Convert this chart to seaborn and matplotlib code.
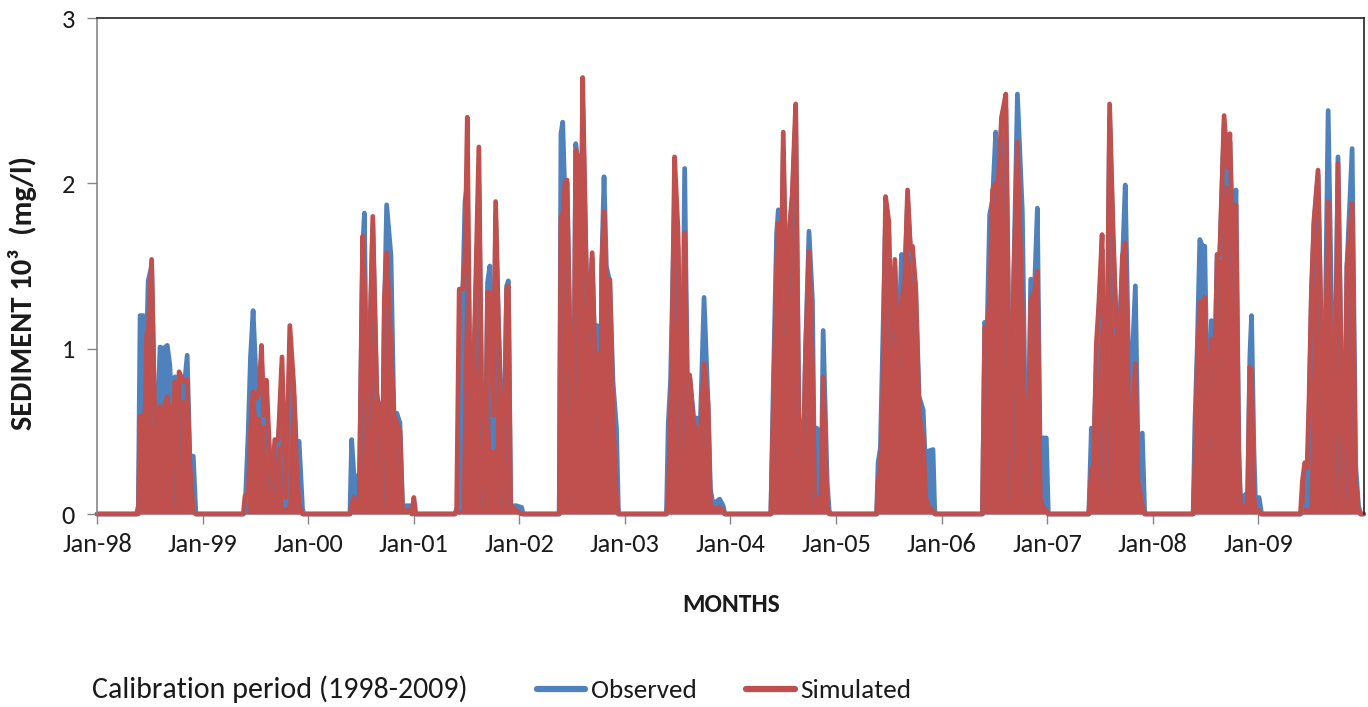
import matplotlib
matplotlib.use("Agg")
import matplotlib.pyplot as plt
import numpy as np
import pandas as pd
import seaborn as sns
from matplotlib import font_manager as fm
from matplotlib.lines import Line2D

# ---------------- data ----------------
dates = [
    "1998-01-01",
    # 1998 season
    "1998-05-18", "1998-05-24", "1998-05-30", "1998-06-10", "1998-06-16", "1998-06-22",
    "1998-06-27", "1998-07-09", "1998-07-20", "1998-08-01", "1998-08-07", "1998-08-18",
    "1998-09-01", "1998-09-10", "1998-09-20", "1998-09-28", "1998-10-05", "1998-10-12",
    "1998-10-26", "1998-11-09", "1998-11-18", "1998-11-30", "1998-12-09",
    # 1999 season
    "1999-05-22", "1999-05-28", "1999-06-08", "1999-06-16", "1999-06-25", "1999-07-07",
    "1999-07-16", "1999-07-24", "1999-08-01", "1999-08-10", "1999-08-28", "1999-09-08",
    "1999-09-20", "1999-10-03", "1999-10-16", "1999-10-30", "1999-11-13", "1999-11-22",
    "1999-12-01", "1999-12-13", "1999-12-17",
    # 2000 season
    "2000-05-25", "2000-05-31", "2000-06-08", "2000-06-17", "2000-06-26", "2000-07-08",
    "2000-07-14", "2000-07-24", "2000-08-12", "2000-08-26", "2000-09-06", "2000-09-13",
    "2000-09-21", "2000-09-29", "2000-10-14", "2000-10-24", "2000-11-03", "2000-11-14",
    "2000-11-23", "2000-12-19", "2000-12-26", "2001-01-01", "2001-01-08",
    # 2001 season
    "2001-05-23", "2001-05-29", "2001-06-07", "2001-06-19", "2001-06-27", "2001-07-05",
    "2001-07-14", "2001-07-23", "2001-08-14", "2001-08-23", "2001-09-04", "2001-09-13",
    "2001-09-21", "2001-10-03", "2001-10-11", "2001-10-20", "2001-11-01", "2001-11-06",
    "2001-11-18", "2001-11-24", "2001-12-02", "2001-12-22", "2002-01-09", "2002-01-14",
    # 2002 season
    "2002-05-19", "2002-05-25", "2002-05-31", "2002-06-08", "2002-06-15", "2002-06-27",
    "2002-07-04", "2002-07-10", "2002-07-15", "2002-07-25", "2002-08-01", "2002-08-08",
    "2002-08-19", "2002-08-27", "2002-09-10", "2002-09-19", "2002-09-27", "2002-10-09",
    "2002-10-13", "2002-10-21", "2002-10-29", "2002-11-10", "2002-11-21", "2002-12-03",
    "2002-12-10",
    # 2003 season
    "2003-05-25", "2003-05-31", "2003-06-08", "2003-06-13", "2003-06-22", "2003-07-04",
    "2003-07-16", "2003-07-27", "2003-08-05", "2003-08-13", "2003-08-27", "2003-09-08",
    "2003-09-17", "2003-10-02", "2003-10-16", "2003-10-24", "2003-11-02", "2003-11-25",
    "2003-12-07", "2003-12-13",
    # 2004 season
    "2004-05-20", "2004-05-28", "2004-06-09", "2004-06-15", "2004-06-23", "2004-07-02",
    "2004-07-14", "2004-07-25", "2004-08-02", "2004-08-14", "2004-08-25", "2004-09-03",
    "2004-09-10", "2004-09-17", "2004-09-29", "2004-10-11", "2004-10-19", "2004-10-25",
    "2004-11-06", "2004-11-10", "2004-11-17", "2004-12-01", "2004-12-08", "2004-12-13",
    # 2005 season
    "2005-05-21", "2005-05-26", "2005-06-03", "2005-06-10", "2005-06-21", "2005-07-02",
    "2005-07-11", "2005-07-23", "2005-08-03", "2005-08-15", "2005-08-26", "2005-09-05",
    "2005-09-15", "2005-09-22", "2005-10-03", "2005-10-15", "2005-10-29", "2005-11-07",
    "2005-11-15", "2005-12-02", "2005-12-08", "2005-12-12",
    # 2006 season
    "2006-05-22", "2006-05-30", "2006-06-07", "2006-06-16", "2006-06-26", "2006-07-07",
    "2006-07-15", "2006-07-27", "2006-08-11", "2006-08-22", "2006-08-30", "2006-09-07",
    "2006-09-20", "2006-10-07", "2006-10-15", "2006-10-25", "2006-11-05", "2006-11-19",
    "2006-11-28", "2006-12-08", "2006-12-15", "2006-12-29", "2007-01-05",
    # 2007 season
    "2007-05-25", "2007-06-03", "2007-06-11", "2007-06-20", "2007-06-28", "2007-07-10",
    "2007-07-22", "2007-08-05", "2007-08-17", "2007-08-28", "2007-09-09", "2007-09-18",
    "2007-09-28", "2007-10-10", "2007-10-17", "2007-11-02", "2007-11-11", "2007-11-26",
    "2007-12-04", "2007-12-07",
    # 2008 season
    "2008-05-20", "2008-05-26", "2008-06-03", "2008-06-12", "2008-06-21", "2008-06-29",
    "2008-07-11", "2008-07-22", "2008-08-03", "2008-08-11", "2008-08-20", "2008-09-04",
    "2008-09-16", "2008-09-24", "2008-10-05", "2008-10-15", "2008-10-25", "2008-10-31",
    "2008-11-09", "2008-11-18", "2008-11-24", "2008-12-02", "2008-12-08", "2008-12-16",
    "2008-12-22", "2009-01-03", "2009-01-09", "2009-01-12",
    # 2009 season
    "2009-05-26", "2009-06-02", "2009-06-10", "2009-06-18", "2009-06-25", "2009-07-03",
    "2009-07-12", "2009-07-26", "2009-08-07", "2009-08-15", "2009-08-30", "2009-09-14",
    "2009-09-18", "2009-10-03", "2009-10-15", "2009-10-23", "2009-11-03", "2009-11-21",
    "2009-12-03", "2009-12-13", "2009-12-20",
    "2009-12-31",
]

observed = [
    0,
    0, 0.05, 1.20, 1.20, 1.18, 1.05, 1.41, 1.50, 0.55, 0.70, 1.01, 1.00,
    1.02, 0.90, 0.50, 0.83, 0.05, 0.84, 0.70, 0.96, 0.35, 0.35, 0,
    0, 0.02, 0.49, 0.95, 1.23, 0.75, 0.60, 0.95, 0.55, 0.70, 0.10, 0.40,
    0.42, 0.80, 0.05, 0.85, 0.72, 0.40, 0.44, 0.03, 0,
    0, 0.45, 0.23, 0.23, 0.05, 1.60, 1.82, 0.41, 1.75, 0.70, 0.65, 0.05,
    1.20, 1.87, 1.56, 0.60, 0.61, 0.55, 0.05, 0.05, 0, 0.02, 0,
    0, 0.03, 0.03, 1.30, 1.89, 2.00, 0.80, 0.57, 2.00, 0.79, 0.05, 1.40,
    1.50, 0.40, 1.80, 1.20, 0.59, 0.05, 1.38, 1.41, 0.05, 0.05, 0.04, 0,
    0, 2.30, 2.37, 1.90, 2.00, 0.90, 0.10, 0.97, 2.24, 2.10, 1.20, 2.50,
    1.60, 1.05, 1.55, 1.00, 1.14, 0.02, 1.50, 2.04, 1.50, 1.40, 0.80, 0.52, 0,
    0, 0.54, 0.80, 1.19, 1.90, 1.60, 0.30, 2.09, 0.80, 0.84, 0.58, 0.58,
    0.43, 1.31, 0.66, 0.15, 0.06, 0.09, 0.05, 0,
    0, 0.73, 1.70, 1.84, 1.20, 2.20, 1.10, 1.75, 1.90, 2.40, 0.61, 0.35,
    0.40, 0.98, 1.71, 1.29, 0.05, 0.52, 0.50, 0.10, 1.11, 0.19, 0.02, 0,
    0, 0.31, 0.40, 0.95, 1.80, 1.70, 0.97, 1.50, 0.90, 1.57, 1.40, 1.90,
    1.60, 1.55, 1.37, 0.71, 0.63, 0.25, 0.38, 0.39, 0.02, 0,
    0, 1.16, 1.10, 1.81, 1.90, 2.31, 2.00, 2.30, 2.45, 1.00, 0.05, 1.40,
    2.54, 1.83, 0.87, 0.05, 1.42, 1.40, 1.85, 0.30, 0.46, 0.46, 0,
    0, 0.52, 0.40, 0.90, 1.20, 1.60, 0.05, 2.40, 1.65, 1.10, 1.17, 1.50,
    1.99, 0.90, 0.71, 1.38, 0.40, 0.49, 0.02, 0,
    0, 0.55, 1.00, 1.66, 1.62, 1.62, 0.40, 1.17, 0.90, 1.57, 1.55, 2.35,
    2.00, 2.25, 1.50, 1.96, 0.40, 0.07, 0.10, 0.12, 0.05, 0.95, 1.20, 0.40,
    0.05, 0.10, 0.03, 0,
    0, 0.05, 0.05, 0.05, 0.60, 1.30, 1.75, 2.05, 1.00, 0.51, 2.44, 0.91,
    0.05, 2.16, 0.80, 0.05, 1.50, 2.21, 0.30, 0.05, 0,
    0,
]

simulated = [
    0,
    0, 0, 0.59, 0.59, 0.60, 1.09, 1.10, 1.54, 0.55, 0.60, 0.65, 0.62,
    0.71, 0.60, 0.45, 0.80, 0.05, 0.86, 0.80, 0.81, 0.30, 0.02, 0,
    0, 0.11, 0.12, 0.50, 0.74, 0.70, 0.75, 1.02, 0.60, 0.81, 0.10, 0.45,
    0.45, 0.95, 0.10, 1.14, 0.77, 0.30, 0.05, 0, 0,
    0, 0.05, 0.10, 0.05, 0.05, 1.68, 1.40, 0.41, 1.80, 0.73, 0.60, 0.05,
    1.30, 1.58, 1.01, 0.60, 0.55, 0.50, 0.02, 0.02, 0, 0.10, 0,
    0, 0.02, 1.36, 1.36, 1.54, 2.40, 0.80, 0.57, 2.22, 0.79, 0.05, 1.34,
    1.34, 0.60, 1.89, 1.20, 0.30, 0.05, 1.36, 1.38, 0.05, 0.02, 0, 0,
    0, 1.80, 1.80, 2.00, 2.02, 0.85, 0.10, 0.90, 2.20, 2.15, 1.20, 2.64,
    1.60, 1.05, 1.58, 0.95, 0.97, 0.02, 1.50, 1.83, 1.40, 1.42, 0.60, 0.10, 0,
    0, 0.10, 0.60, 1.01, 2.16, 1.71, 0.30, 1.70, 0.80, 0.84, 0.55, 0.50,
    0.40, 0.91, 0.66, 0.05, 0.03, 0.04, 0.02, 0,
    0, 0.60, 1.50, 1.76, 1.20, 2.31, 1.10, 1.76, 1.93, 2.48, 0.50, 0.35,
    0.35, 0.98, 1.59, 0.90, 0.05, 0.10, 0.10, 0.05, 0.83, 0.05, 0, 0,
    0, 0.19, 0.30, 0.59, 1.92, 1.77, 0.97, 1.54, 0.90, 1.29, 1.40, 1.96,
    1.60, 1.62, 1.37, 0.60, 0.45, 0.10, 0.05, 0.02, 0, 0,
    0, 1.13, 1.10, 1.30, 1.96, 2.00, 1.98, 2.40, 2.54, 0.90, 0.05, 1.40,
    2.25, 1.21, 0.60, 0.05, 1.29, 1.35, 1.47, 0.10, 0.05, 0.02, 0,
    0, 0.27, 0.30, 1.03, 1.25, 1.69, 0.05, 2.48, 1.71, 1.15, 1.00, 1.56,
    1.64, 0.60, 0.30, 0.91, 0.20, 0.05, 0, 0,
    0, 0.30, 0.90, 1.28, 1.25, 1.31, 0.40, 1.06, 0.90, 1.57, 1.57, 2.41,
    2.10, 2.30, 1.50, 1.87, 0.30, 0.05, 0.03, 0.05, 0.05, 0.89, 0.85, 0.10,
    0.03, 0.02, 0, 0,
    0, 0.20, 0.31, 0.28, 0.70, 1.35, 1.78, 2.08, 1.00, 0.40, 1.89, 0.50,
    0.05, 2.12, 0.80, 0.05, 1.50, 1.88, 0.20, 0.02, 0,
    0,
]

x_tick_labels = ["Jan-98", "Jan-99", "Jan-00", "Jan-01", "Jan-02", "Jan-03",
                 "Jan-04", "Jan-05", "Jan-06", "Jan-07", "Jan-08", "Jan-09"]
y_ticks = [0, 1, 2, 3]
series_names = ["Observed", "Simulated"]

# ---------------- style ----------------
sns.set_style("white")
avail = {f.name for f in fm.fontManager.ttflist}
FONT = next((f for f in ["Carlito", "Liberation Sans Narrow", "Open Sans", "DejaVu Sans"]
             if f in avail), "DejaVu Sans")
plt.rcParams["font.family"] = [FONT, "DejaVu Sans"]

BLUE = "#4F81BD"
RED = "#C0504D"
GRAY = "#868686"
TXT = "#1a1a1a"

df = pd.DataFrame({"date": pd.to_datetime(dates),
                   "Observed": observed,
                   "Simulated": simulated})

W, H = 1368, 707
fig = plt.figure(figsize=(W / 100, H / 100), dpi=100)
ax = fig.add_axes([97 / W, 1 - 514 / H, (1364 - 97) / W, (514 - 18) / H])

line_kw = dict(lw=3.4, clip_on=False, solid_joinstyle="round",
               solid_capstyle="round", errorbar=None, legend=False)
ax.fill_between(df["date"], df["Observed"], 0, color=BLUE, lw=0)
sns.lineplot(data=df, x="date", y="Observed", ax=ax, color=BLUE, **line_kw)
ax.fill_between(df["date"], df["Simulated"], 0, color=RED, lw=0)
sns.lineplot(data=df, x="date", y="Simulated", ax=ax, color=RED, **line_kw)

ax.set_xlim(pd.Timestamp("1998-01-01"), pd.Timestamp("2010-01-01"))
ax.set_ylim(0, 3)
ax.set_xticks(pd.date_range("1998-01-01", periods=len(x_tick_labels), freq="YS"))
ax.set_xticklabels(x_tick_labels)
ax.set_yticks(y_ticks)
ax.set_yticklabels([str(v) for v in y_ticks])
ax.set_xlabel("")
ax.set_ylabel("")

ax.tick_params(axis="x", direction="out", length=7, width=1, color=GRAY,
               labelsize=19, labelcolor=TXT, pad=7, bottom=True)
ax.tick_params(axis="y", direction="out", length=7, width=1, color=GRAY,
               labelsize=19, labelcolor=TXT, pad=9, left=True)

ax.spines["left"].set_color(GRAY)
ax.spines["left"].set_linewidth(1.2)
ax.spines["bottom"].set_visible(False)
for s in ("top", "right"):
    ax.spines[s].set_color("#222222")
    ax.spines[s].set_linewidth(1.2)

# axis titles
fig.text(23 / W, 1 - 293 / H, "SEDIMENT 10³  (mg/l)", rotation=90,
         fontsize=22, fontweight="bold", color=TXT, ha="center", va="center")
fig.text(731 / W, 1 - 604 / H, "MONTHS", fontsize=18.5, fontweight="bold",
         color=TXT, ha="center", va="center")

# caption and legend
fig.text(92 / W, 1 - 689 / H, "Calibration period (1998-2009)", fontsize=21.6,
         color=TXT, ha="left", va="center")
handles = [Line2D([0], [0], color=BLUE, lw=4.5),
           Line2D([0], [0], color=RED, lw=4.5)]
fig.legend(handles, series_names, loc="center left",
           bbox_to_anchor=(537 / W, 1 - 691 / H), ncol=2, frameon=False,
           fontsize=19.5, handlelength=1.78, handletextpad=0.2,
           columnspacing=1.85, borderpad=0, borderaxespad=0,
           labelcolor=TXT)

fig.savefig("out.png", dpi=100)
